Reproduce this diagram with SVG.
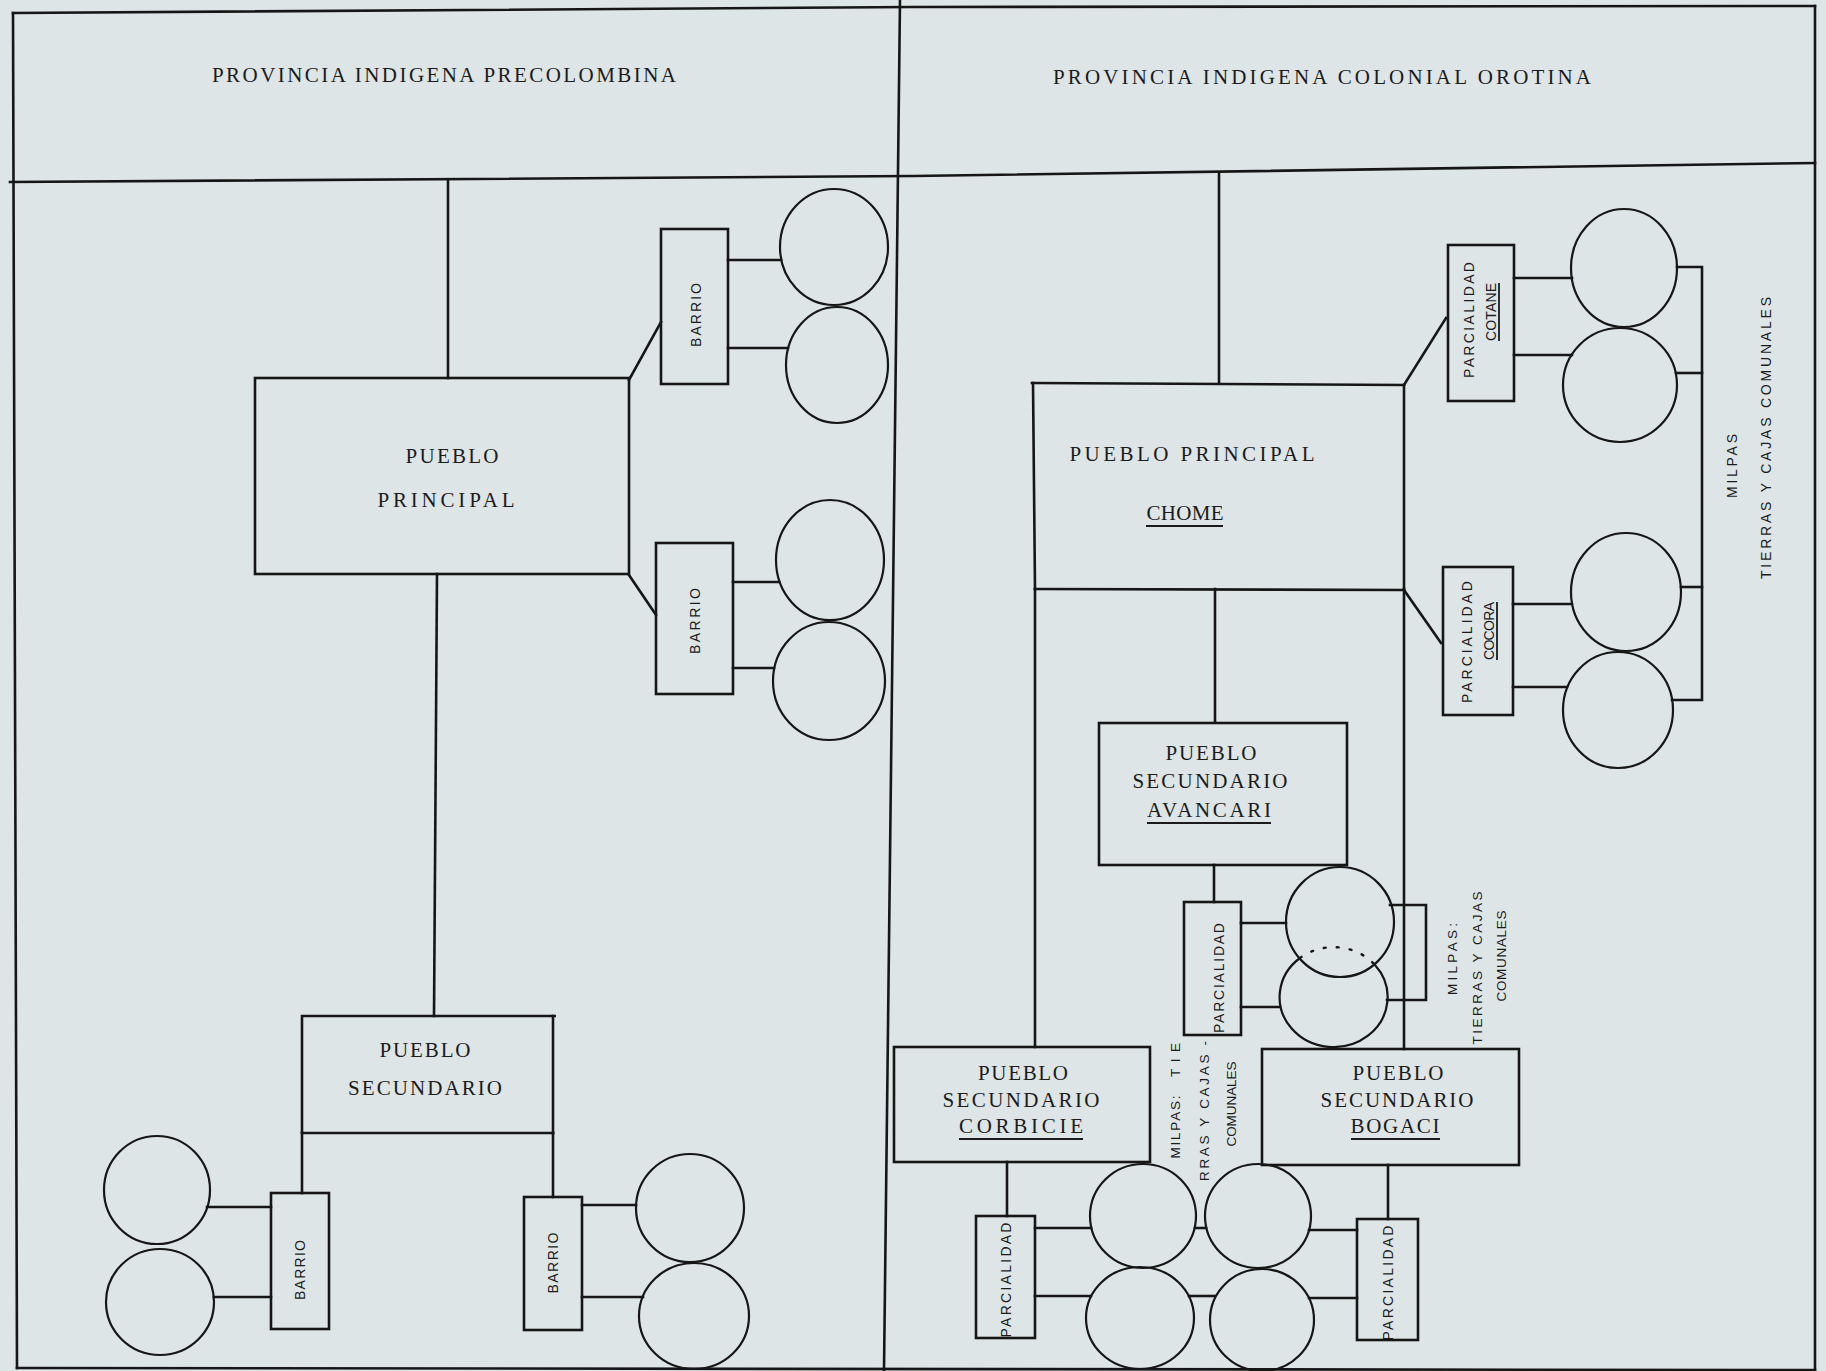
<svg xmlns="http://www.w3.org/2000/svg" width="1826" height="1371" viewBox="0 0 1826 1371">
<style>
.ln{fill:none;stroke:#161616;stroke-width:2.6;stroke-linecap:square}
.bx{fill:none;stroke:#161616;stroke-width:2.6}
.ci{fill:none;stroke:#161616;stroke-width:2.2}
.dt{fill:none;stroke:#161616;stroke-width:2.4;stroke-dasharray:2 11;stroke-linecap:round}
.t{font-family:"Liberation Serif","Times New Roman",serif;font-size:21px;fill:#1b1b1b;text-anchor:middle}
.h{font-family:"Liberation Serif","Times New Roman",serif;font-size:21px;fill:#1b1b1b;text-anchor:middle}
.s{font-family:"Liberation Sans",Arial,sans-serif;font-size:14px;fill:#1b1b1b;text-anchor:middle}
.m{font-family:"Liberation Sans",Arial,sans-serif;font-size:13.5px;fill:#1b1b1b;text-anchor:middle}
.u{fill:none;stroke:#1b1b1b;stroke-width:1.8}
</style>
<rect x="0" y="0" width="1826" height="1371" fill="#dee5e7"/>

<g id="frame">
<polyline class="ln" points="13,13 913,7 1815,6"/>
<line class="ln" x1="13" y1="13" x2="17" y2="1368"/>
<line class="ln" x1="1815" y1="6" x2="1815" y2="1371"/>
<line class="ln" x1="17" y1="1368" x2="1815" y2="1370"/>
<polyline class="ln" points="10,182 913,176 1815,163"/>
<line class="ln" x1="900" y1="0" x2="884" y2="1371"/>
</g>

<g id="titles">
<text class="h" x="444" y="82" textLength="464" lengthAdjust="spacing">PROVINCIA INDIGENA PRECOLOMBINA</text>
<text class="h" x="1322" y="84" textLength="538" lengthAdjust="spacing">PROVINCIA INDIGENA COLONIAL OROTINA</text>
</g>

<g id="connectors">
<line class="ln" x1="448" y1="180" x2="448" y2="378"/>
<line class="ln" x1="629" y1="380" x2="661" y2="322"/>
<line class="ln" x1="629" y1="575" x2="656" y2="615"/>
<line class="ln" x1="728" y1="260" x2="781" y2="260"/>
<line class="ln" x1="728" y1="348" x2="788" y2="348"/>
<line class="ln" x1="733" y1="582" x2="779" y2="582"/>
<line class="ln" x1="733" y1="668" x2="774" y2="668"/>
<line class="ln" x1="437" y1="574" x2="434" y2="1016"/>
<line class="ln" x1="302" y1="1133" x2="302" y2="1193"/>
<line class="ln" x1="553" y1="1133" x2="553" y2="1197"/>
<line class="ln" x1="207" y1="1207" x2="271" y2="1207"/>
<line class="ln" x1="214" y1="1297" x2="271" y2="1297"/>
<line class="ln" x1="582" y1="1205" x2="636" y2="1205"/>
<line class="ln" x1="582" y1="1297" x2="643" y2="1297"/>
<line class="ln" x1="1219" y1="173" x2="1219" y2="383"/>
<line class="ln" x1="1035" y1="589" x2="1035" y2="1047"/>
<line class="ln" x1="1404" y1="589" x2="1404" y2="1049"/>
<line class="ln" x1="1404" y1="385" x2="1446" y2="318"/>
<line class="ln" x1="1404" y1="590" x2="1441" y2="643"/>
<line class="ln" x1="1514" y1="278" x2="1572" y2="278"/>
<line class="ln" x1="1514" y1="355" x2="1572" y2="355"/>
<line class="ln" x1="1513" y1="604" x2="1572" y2="604"/>
<line class="ln" x1="1513" y1="687" x2="1567" y2="687"/>
<polyline class="ln" points="1677,267 1702,267 1702,700 1672,700"/>
<line class="ln" x1="1676" y1="373" x2="1702" y2="373"/>
<line class="ln" x1="1681" y1="587" x2="1702" y2="587"/>
<line class="ln" x1="1215" y1="589" x2="1215" y2="722"/>
<line class="ln" x1="1214" y1="865" x2="1214" y2="902"/>
<line class="ln" x1="1241" y1="923" x2="1286" y2="923"/>
<line class="ln" x1="1241" y1="1007" x2="1280" y2="1007"/>
<polyline class="ln" points="1390,905 1426,905 1426,1000 1387,1000"/>
<line class="ln" x1="1007" y1="1162" x2="1007" y2="1216"/>
<line class="ln" x1="1388" y1="1165" x2="1388" y2="1219"/>
<line class="ln" x1="1035" y1="1228" x2="1091" y2="1228"/>
<line class="ln" x1="1035" y1="1296" x2="1091" y2="1296"/>
<line class="ln" x1="1195" y1="1228" x2="1206" y2="1228"/>
<line class="ln" x1="1189" y1="1296" x2="1215" y2="1296"/>
<line class="ln" x1="1309" y1="1230" x2="1357" y2="1230"/>
<line class="ln" x1="1309" y1="1298" x2="1357" y2="1298"/>
</g>

<g id="pueblo-principal">
<rect class="bx" x="255" y="378" width="374" height="196"/>
<text class="t" x="452" y="463" textLength="93" lengthAdjust="spacing">PUEBLO</text>
<text class="t" x="446" y="507" textLength="137" lengthAdjust="spacing">PRINCIPAL</text>
</g>
<g id="barrio-1">
<rect class="bx" x="661" y="229" width="67" height="155"/>
<text class="s" transform="translate(701,315) rotate(-90)" textLength="64" lengthAdjust="spacing">BARRIO</text>
</g>
<g id="barrio-2">
<rect class="bx" x="656" y="543" width="77" height="151"/>
<text class="s" transform="translate(700,621) rotate(-90)" textLength="66" lengthAdjust="spacing">BARRIO</text>
</g>
<g id="milpas-left-top">
<ellipse class="ci" cx="834" cy="247" rx="54" ry="58"/>
<ellipse class="ci" cx="837" cy="365" rx="51" ry="58"/>
<ellipse class="ci" cx="830" cy="560" rx="54" ry="60"/>
<ellipse class="ci" cx="829" cy="681" rx="56" ry="59"/>
</g>
<g id="pueblo-secundario">
<polyline class="bx" points="302,1133 302,1016 556,1016"/>
<line class="ln" x1="553" y1="1016" x2="553" y2="1133"/>
<line class="ln" x1="302" y1="1133" x2="553" y2="1133"/>
<text class="t" x="425" y="1057" textLength="91" lengthAdjust="spacing">PUEBLO</text>
<text class="t" x="425" y="1095" textLength="154" lengthAdjust="spacing">SECUNDARIO</text>
</g>
<g id="barrio-3">
<rect class="bx" x="271" y="1193" width="58" height="136"/>
<text class="s" transform="translate(305,1270) rotate(-90)" textLength="60" lengthAdjust="spacing">BARRIO</text>
</g>
<g id="barrio-4">
<rect class="bx" x="524" y="1197" width="58" height="133"/>
<text class="s" transform="translate(558,1263) rotate(-90)" textLength="61" lengthAdjust="spacing">BARRIO</text>
</g>
<g id="milpas-left-bottom">
<ellipse class="ci" cx="157" cy="1190" rx="53" ry="54"/>
<ellipse class="ci" cx="160" cy="1302" rx="54" ry="53"/>
<ellipse class="ci" cx="690" cy="1208" rx="54" ry="54"/>
<ellipse class="ci" cx="694" cy="1316" rx="55" ry="53"/>
</g>

<g id="chome">
<line class="ln" x1="1032" y1="383" x2="1404" y2="385"/>
<line class="ln" x1="1033" y1="383" x2="1035" y2="589"/>
<line class="ln" x1="1404" y1="385" x2="1404" y2="589"/>
<line class="ln" x1="1035" y1="589" x2="1404" y2="590"/>
<text class="t" x="1192" y="461" textLength="245" lengthAdjust="spacing">PUEBLO PRINCIPAL</text>
<text class="t" x="1185" y="520" textLength="77" lengthAdjust="spacing">CHOME</text>
<line class="u" x1="1146" y1="526" x2="1223" y2="526"/>
</g>
<g id="parcialidad-cotane">
<rect class="bx" x="1448" y="245" width="66" height="156"/>
<text class="s" transform="translate(1474,320) rotate(-90)" textLength="116" lengthAdjust="spacing">PARCIALIDAD</text>
<text class="s" transform="translate(1496,312) rotate(-90)" textLength="58" lengthAdjust="spacing">COTANE</text>
<line class="u" x1="1499" y1="283" x2="1499" y2="341"/>
</g>
<g id="parcialidad-cocora">
<rect class="bx" x="1443" y="567" width="70" height="148"/>
<text class="s" transform="translate(1472,642) rotate(-90)" textLength="122" lengthAdjust="spacing">PARCIALIDAD</text>
<text class="s" transform="translate(1494,631) rotate(-90)" textLength="58" lengthAdjust="spacing">COCORA</text>
<line class="u" x1="1497" y1="602" x2="1497" y2="660"/>
</g>
<g id="milpas-right-top">
<ellipse class="ci" cx="1624" cy="268" rx="53" ry="59"/>
<ellipse class="ci" cx="1620" cy="385" rx="57" ry="57"/>
<ellipse class="ci" cx="1626" cy="592" rx="55" ry="59"/>
<ellipse class="ci" cx="1618" cy="710" rx="55" ry="58"/>
<text class="s" transform="translate(1737,466) rotate(-90)" textLength="64" lengthAdjust="spacing">MILPAS</text>
<text class="s" transform="translate(1771,438) rotate(-90)" textLength="282" lengthAdjust="spacing">TIERRAS Y CAJAS COMUNALES</text>
</g>
<g id="avancari">
<rect class="bx" x="1099" y="723" width="248" height="142"/>
<text class="t" x="1211" y="760" textLength="91" lengthAdjust="spacing">PUEBLO</text>
<text class="t" x="1210" y="788" textLength="155" lengthAdjust="spacing">SECUNDARIO</text>
<text class="t" x="1209" y="817" textLength="124" lengthAdjust="spacing">AVANCARI</text>
<line class="u" x1="1147" y1="823" x2="1271" y2="823"/>
</g>
<g id="parcialidad-avancari">
<rect class="bx" x="1184" y="902" width="57" height="133"/>
<text class="s" transform="translate(1224,978) rotate(-90)" textLength="110" lengthAdjust="spacing">PARCIALIDAD</text>
</g>
<g id="milpas-middle">
<ellipse class="ci" cx="1340" cy="922" rx="54" ry="55"/>
<path class="ci" d="M1300,958 A54,50 0 1,0 1375,965"/>
<path class="dt" d="M1300,958 A54,50 0 0,1 1375,965"/>
<text class="m" transform="translate(1457,959) rotate(-90)" textLength="72" lengthAdjust="spacing">MILPAS:</text>
<text class="m" transform="translate(1482,968) rotate(-90)" textLength="153" lengthAdjust="spacing">TIERRAS Y CAJAS</text>
<text class="m" transform="translate(1506,956) rotate(-90)" textLength="91" lengthAdjust="spacing">COMUNALES</text>
</g>
<g id="corbicie">
<rect class="bx" x="894" y="1047" width="256" height="115"/>
<text class="t" x="1023" y="1080" textLength="90" lengthAdjust="spacing">PUEBLO</text>
<text class="t" x="1021" y="1107" textLength="157" lengthAdjust="spacing">SECUNDARIO</text>
<text class="t" x="1021" y="1133" textLength="124" lengthAdjust="spacing">CORBICIE</text>
<line class="u" x1="959" y1="1139" x2="1083" y2="1139"/>
</g>
<g id="bogaci">
<rect class="bx" x="1262" y="1049" width="257" height="116"/>
<text class="t" x="1398" y="1080" textLength="91" lengthAdjust="spacing">PUEBLO</text>
<text class="t" x="1397" y="1107" textLength="153" lengthAdjust="spacing">SECUNDARIO</text>
<text class="t" x="1395" y="1133" textLength="89" lengthAdjust="spacing">BOGACI</text>
<line class="u" x1="1351" y1="1139" x2="1440" y2="1139"/>
</g>
<g id="parcialidad-corbicie">
<rect class="bx" x="976" y="1216" width="59" height="122"/>
<text class="s" transform="translate(1011,1280) rotate(-90)" textLength="115" lengthAdjust="spacing">PARCIALIDAD</text>
</g>
<g id="parcialidad-bogaci">
<rect class="bx" x="1357" y="1219" width="61" height="121"/>
<text class="s" transform="translate(1393,1283) rotate(-90)" textLength="115" lengthAdjust="spacing">PARCIALIDAD</text>
</g>
<g id="milpas-bottom">
<ellipse class="ci" cx="1143" cy="1216" rx="53" ry="52"/>
<ellipse class="ci" cx="1140" cy="1318" rx="54" ry="51"/>
<ellipse class="ci" cx="1258" cy="1216" rx="53" ry="52"/>
<ellipse class="ci" cx="1262" cy="1320" rx="52" ry="51"/>
<text class="m" transform="translate(1180,1127) rotate(-90)" textLength="63" lengthAdjust="spacing">MILPAS:</text>
<text class="m" transform="translate(1180,1060) rotate(-90)" textLength="34" lengthAdjust="spacing">TIE</text>
<text class="m" transform="translate(1209,1111) rotate(-90)" textLength="140" lengthAdjust="spacing">RRAS Y CAJAS -</text>
<text class="m" transform="translate(1236,1104) rotate(-90)" textLength="85" lengthAdjust="spacing">COMUNALES</text>
</g>
</svg>
